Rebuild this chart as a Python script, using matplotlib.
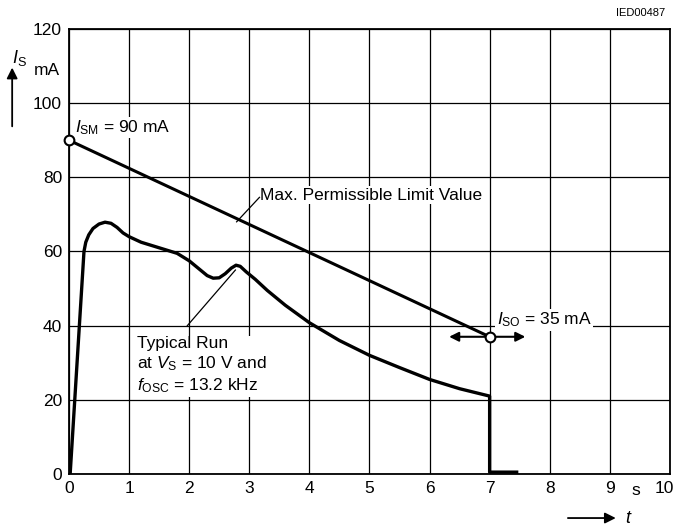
import matplotlib
matplotlib.use("Agg")
import numpy as np
from matplotlib import pyplot as plt
from matplotlib import transforms

plt.rcParams['font.family'] = ['Liberation Sans', 'DejaVu Sans']
plt.rcParams['mathtext.fontset'] = 'custom'
plt.rcParams['mathtext.rm'] = 'Liberation Sans'
plt.rcParams['mathtext.it'] = 'Liberation Sans:italic'

# typical run at Vs = 10 V, fosc = 13.2 kHz
run_t = [0.02, 0.25, 0.28, 0.33, 0.4, 0.5, 0.6, 0.7, 0.8, 0.9, 1.0, 1.2, 1.5, 1.8,
         2.0, 2.15, 2.3, 2.4, 2.5, 2.6, 2.7, 2.78, 2.85, 2.95, 3.1, 3.3, 3.6, 4.0,
         4.5, 5.0, 5.5, 6.0, 6.5, 7.0, 7.0, 7.45]
run_i = [0, 60, 62.5, 64.5, 66.2, 67.4, 67.9, 67.6, 66.5, 65, 64, 62.5, 61, 59.5,
         57.5, 55.5, 53.5, 52.8, 52.9, 54, 55.5, 56.3, 56, 54.5, 52.5, 49.5, 45.5, 40.8,
         36, 32, 28.7, 25.5, 23, 21, 0.5, 0.5]

# max. permissible limit
limit_t = [0, 7]
limit_i = [90, 37]

xticks = list(range(0, 11))
yticks = [0, 20, 40, 60, 80, 100, 120]

fig = plt.figure(figsize=(6.76, 5.27), dpi=100)
ax = fig.add_axes([0.102, 0.1006, 0.889, 0.8444])
ax.set_xlim(0, 10)
ax.set_ylim(0, 120)
ax.set_xticks(xticks)
ax.set_yticks(yticks)
ax.grid(True, color='black', lw=0.9)
ax.tick_params(length=0, labelsize=12.5, pad=5)
for s in ax.spines.values():
    s.set_linewidth(1.3)
# pull the "10" label inside the figure
lab10 = ax.get_xticklabels()[-1]
lab10.set_transform(lab10.get_transform() + transforms.ScaledTranslation(-4/72, 0, fig.dpi_scale_trans))

ax.plot(run_t, run_i, color='black', lw=2.4, solid_joinstyle='round', zorder=3)
ax.plot(limit_t, limit_i, color='black', lw=2.2, zorder=3)
ax.plot(limit_t, limit_i, 'o', ms=7, mfc='white', mec='black', mew=1.5, zorder=5, clip_on=False)

# double arrow at I_SO
ax.annotate('', xy=(6.28, 37), xytext=(7.0, 37),
            arrowprops=dict(arrowstyle='-|>', color='black', lw=1.5, mutation_scale=14))
ax.annotate('', xy=(7.64, 37), xytext=(7.0, 37),
            arrowprops=dict(arrowstyle='-|>', color='black', lw=1.5, mutation_scale=14))

box = dict(fc='white', ec='none', pad=1.0)
ax.text(0.1, 93.5, r'$I_\mathrm{SM}$ = 90 mA', fontsize=12.5, va='center', zorder=4, bbox=box)
ax.text(7.12, 41.5, r'$I_\mathrm{SO}$ = 35 mA', fontsize=12.5, va='center', zorder=2, bbox=box)

ax.text(3.18, 75.2, 'Max. Permissible Limit Value', fontsize=12.5, va='center', zorder=2, bbox=box)
ax.plot([3.17, 2.79], [74.6, 68.0], color='black', lw=0.9)

ax.text(1.13, 37.2, 'Typical Run\n' + r'at $V_\mathrm{S}$ = 10 V and' + '\n' + r'$f_\mathrm{OSC}$ = 13.2 kHz',
        fontsize=12.5, va='top', linespacing=1.25, zorder=2, bbox=box)
ax.plot([1.97, 2.77], [40.0, 55.0], color='black', lw=0.9)

# axis labels
fig.text(0.018, 0.89, r'$I_\mathrm{S}$', fontsize=13, va='center')
fig.text(0.07, 0.867, 'mA', fontsize=12.5, va='center', ha='center')
fig.add_artist(matplotlib.patches.FancyArrowPatch(
    (0.018, 0.755), (0.018, 0.877), transform=fig.transFigure,
    arrowstyle='-|>', color='black', lw=1.3, mutation_scale=16))
fig.text(0.941, 0.07, 's', fontsize=12.5, ha='center', va='center')
fig.add_artist(matplotlib.patches.FancyArrowPatch(
    (0.836, 0.017), (0.915, 0.017), transform=fig.transFigure,
    arrowstyle='-|>', color='black', lw=1.3, mutation_scale=16))
fig.text(0.925, 0.017, r'$t$', fontsize=13, va='center')
fig.text(0.984, 0.976, 'IED00487', fontsize=8, ha='right', va='center')

fig.savefig('out.png', dpi=100)
